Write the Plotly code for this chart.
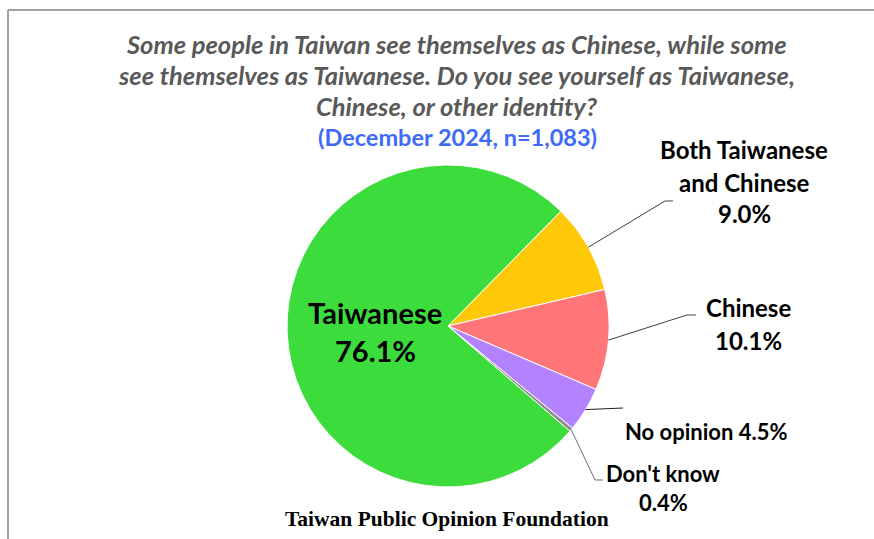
import math
import plotly.graph_objects as go

# Survey result: self-identification in Taiwan (December 2024, n=1,083)
categories = ["Both Taiwanese and Chinese", "Chinese", "No opinion", "Don't know", "Taiwanese"]
shares = [9.0, 10.1, 4.5, 0.4, 76.1]
colors = ["#FFC90A", "#FF7578", "#B383FF", "#8C8C8C", "#3DDC3D"]

title_lines = [
    "Some people in Taiwan see themselves as Chinese, while some",
    "see themselves as Taiwanese. Do you see yourself as Taiwanese,",
    "Chinese, or other identity?",
]
subtitle = "(December 2024, n=1,083)"
source = "Taiwan Public Opinion Foundation"

W, H = 874, 539
CX, CY, R = 448, 326, 161      # pie centre and radius in pixels
START = 44.5                   # start angle of first slice, degrees clockwise from 12 o'clock


def px(x):
    return x / W


def py(y):
    return 1 - y / H


fig = go.Figure(
    go.Pie(
        labels=categories,
        values=shares,
        sort=False,
        direction="clockwise",
        rotation=START,
        marker=dict(colors=colors, line=dict(color="white", width=1)),
        textinfo="none",
        hoverinfo="label+value",
        showlegend=False,
        domain=dict(x=[px(CX - R), px(CX + R)], y=[py(CY + R), py(CY - R)]),
    )
)

# mid-angle anchor point of each slice on the rim
total = sum(shares)
anchors = []
acc = 0.0
for v in shares:
    mid = math.radians(START + (acc + v / 2) / total * 360)
    anchors.append((CX + R * math.sin(mid), CY - R * math.cos(mid)))
    acc += v

annotations = []
shapes = []


def text(x, y, s, size, color="black", family="Lato", bold=True, italic=False):
    t = s
    if bold:
        t = "<b>" + t + "</b>"
    if italic:
        t = "<i>" + t + "</i>"
    annotations.append(dict(
        x=px(x), y=py(y), xref="paper", yref="paper", text=t, showarrow=False,
        xanchor="center", yanchor="middle",
        font=dict(family=family, size=size, color=color),
    ))


# heading
for i, line in enumerate(title_lines):
    text(456, 44 + i * 31, line, 25.5, color="#595959", italic=True)
text(457, 137, subtitle, 23.5, color="#3D6BF5")

# slice labels
pct = ["{:.1f}%".format(v) for v in shares]
text(744, 150, "Both Taiwanese", 24)
text(744, 182, "and Chinese", 24)
text(744, 213, pct[0], 24)
text(748, 307, categories[1], 24)
text(748, 340, pct[1], 24)
text(706, 431, categories[2] + " " + pct[2], 22)
text(663, 473, categories[3], 22)
text(663, 502, pct[3], 22)
text(375, 312, categories[4], 29)
text(375, 350, pct[4], 29)

# source line
text(447, 519, source, 21.5, family="Liberation Serif")


def leader(points, color="#404040"):
    d = "M " + " L ".join("{:.4f},{:.4f}".format(px(x), py(y)) for x, y in points)
    shapes.append(dict(type="path", path=d, xref="paper", yref="paper",
                       line=dict(color=color, width=1)))


leader([anchors[0], (665, 201), (673, 201)])
leader([anchors[1], (687, 315), (696, 315)])
leader([anchors[2], (623, 408)], color="#202020")
leader([anchors[3], (595, 480), (603, 480)], color="#6E6E6E")

# frame lines along the top and left edges
shapes.append(dict(type="line", xref="paper", yref="paper",
                   x0=px(8), y0=py(10), x1=1, y1=py(10),
                   line=dict(color="#A0A0A0", width=2)))
shapes.append(dict(type="line", xref="paper", yref="paper",
                   x0=px(8), y0=py(10), x1=px(8), y1=0,
                   line=dict(color="#A0A0A0", width=2)))

fig.update_layout(
    width=W, height=H,
    margin=dict(l=0, r=0, t=0, b=0),
    paper_bgcolor="white",
    plot_bgcolor="white",
    annotations=annotations,
    shapes=shapes,
)

fig.write_html("out.html")
